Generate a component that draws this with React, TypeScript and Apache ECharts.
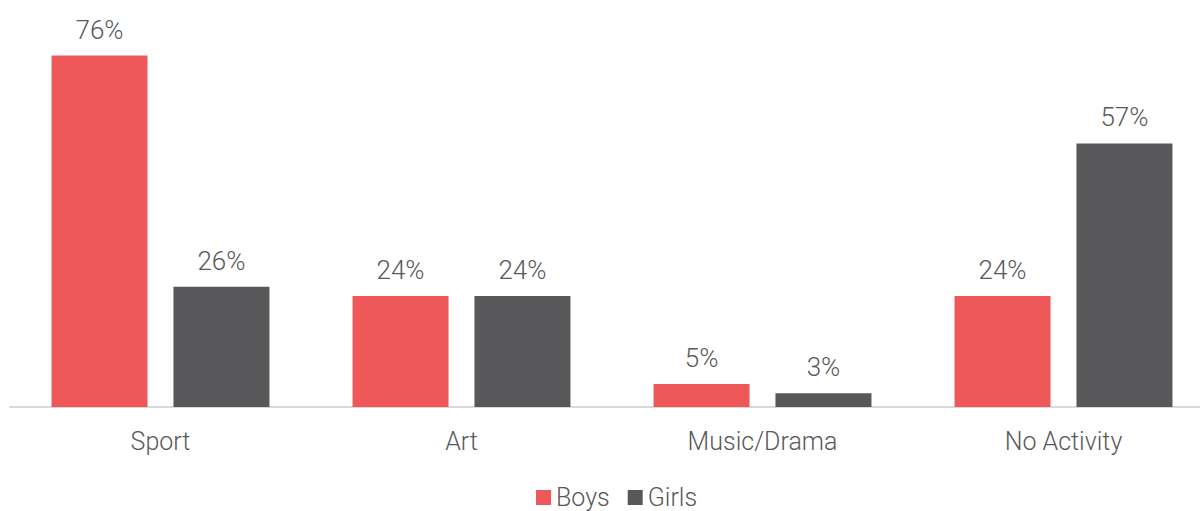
import React, { useEffect, useRef } from "react";
import * as echarts from "echarts";

const categories = ["Sport", "Art", "Music/Drama", "No Activity"];
const seriesNames = ["Boys", "Girls"];
const boys = [76, 24, 5, 24];
const girls = [26, 24, 3, 57];

const FONT = "Roboto, 'Noto Sans', sans-serif";
const TEXT = "#595959";

export default function App() {
  const ref = useRef<HTMLDivElement>(null);
  useEffect(() => {
    const chart = echarts.init(ref.current!, null, { renderer: "svg" });
    const label = {
      show: true,
      position: "top",
      distance: 13,
      formatter: "{c}%",
      color: TEXT,
      fontSize: 26,
      fontWeight: 300,
      fontFamily: FONT,
    };
    chart.setOption({
      animation: false,
      legend: {
        bottom: -4,
        left: 531,
        itemWidth: 15,
        itemHeight: 15,
        itemGap: 18,
        icon: "rect",
        textStyle: { color: TEXT, fontSize: 25, fontWeight: 300, fontFamily: FONT, padding: [0, 0, 0, 0] },
        data: seriesNames,
      },
      grid: { left: 10, right: 0, top: 0, bottom: 104, containLabel: false },
      xAxis: {
        type: "category",
        data: categories,
        axisLine: { lineStyle: { color: "#d9d9d9", width: 2 } },
        axisTick: { show: false },
        axisLabel: { color: TEXT, fontSize: 25, fontWeight: 300, fontFamily: FONT, margin: 22 },
      },
      yAxis: {
        type: "value",
        min: 0,
        max: 88,
        show: false,
        splitLine: { show: false },
      },
      series: [
        {
          name: seriesNames[0],
          type: "bar",
          data: boys,
          barWidth: 96,
          barGap: "27%",
          itemStyle: { color: "#EF5859" },
          label,
        },
        {
          name: seriesNames[1],
          type: "bar",
          data: girls,
          barWidth: 96,
          itemStyle: { color: "#58585A" },
          label,
        },
      ],
    });
    return () => chart.dispose();
  }, []);
  return (
    <div style={{ position: "absolute", left: 0, top: 0, width: 1200, height: 511, overflow: "hidden" }}>
      <div ref={ref} style={{ width: 1214, height: 511 }} />
    </div>
  );
}
